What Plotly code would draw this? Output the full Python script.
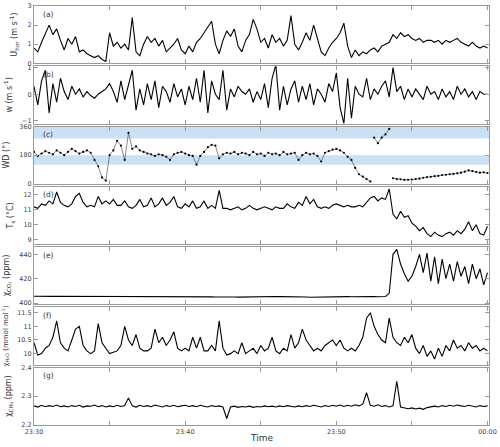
import pandas as pd
import plotly.graph_objects as go

# time axis, 15 s samples from 23:30 to 00:00
time = pd.date_range("2020-01-01 23:30:00", periods=121, freq="15s")

u_hor = [0.8, 0.6, 1.1, 1.6, 2.0, 1.5, 1.8, 1.2, 0.7, 1.3,
         1.0, 1.4, 0.6, 0.7, 0.5, 0.4, 0.3, 0.4, 0.2, 0.1,
         1.6, 0.9, 1.1, 0.8, 1.0, 0.7, 2.4, 0.6, 0.4, 1.0,
         1.4, 1.1, 1.3, 0.9, 1.2, 0.6, 0.8, 1.0, 1.3, 0.7,
         0.5, 0.9, 0.6, 1.1, 1.3, 1.6, 1.9, 2.2, 1.0, 0.5,
         1.2, 1.7, 1.4, 1.8, 0.9, 0.6, 1.2, 1.5, 2.3, 1.8,
         1.1, 1.3, 0.8, 1.5, 1.1, 1.3, 0.9, 1.2, 2.5, 1.0,
         0.7, 1.1, 1.6, 1.2, 2.0, 1.3, 0.6, 0.4, 0.8, 1.1,
         1.3, 1.6, 2.1, 0.9, 0.3, 0.7, 0.4, 0.6, 0.5, 0.7,
         0.8, 0.6, 0.9, 1.0, 1.1, 1.5, 1.3, 1.6, 1.4, 1.5,
         1.3, 1.2, 1.3, 1.1, 1.2, 1.2, 1.1, 1.2, 1.0, 1.2,
         1.1, 1.2, 1.3, 1.1, 1.0, 0.9, 1.1, 0.9, 0.8, 0.9, 0.8]

w = [0.3, -0.4, 0.5, 0.9, -0.7, 0.4, -0.3, 0.6, 0.1, -0.2,
     0.3, 0.0, 0.2, -0.1, 0.1, -0.05, -0.15, 0.0, 0.1, 0.2,
     0.4, 0.1, -0.3, 0.5, -0.2, 0.3, 0.9, -0.6, 0.2, -0.4,
     0.4, -0.2, 0.5, -0.5, 0.3, 0.1, -0.3, 0.4, -0.1, 0.2,
     -0.4, 0.3, -0.2, 0.6, -0.3, 0.9, -0.7, 0.5, 0.0, -0.2,
     0.9, -0.6, 0.2, -0.1, 0.3, 0.1, 0.0, 0.2, -0.3, 0.1,
     -0.2, 0.4, -0.5, 0.6, 1.1, -0.6, 0.3, -0.4, 0.2, 0.5,
     -0.3, 0.3, -0.2, 0.4, -0.4, 0.2, 0.0, -0.3, 0.4, 0.1,
     0.8, -0.5, -1.1, 0.6, -0.9, 0.3, 0.0, -0.1, 0.6, -0.2,
     0.2, 0.0, 0.3, 0.5, -0.1, 1.0, 0.1, 0.3, -0.2, 0.2,
     -0.1, 0.2, 0.0, -0.2, 0.3, 0.0, 0.1, -0.2, 0.2, -0.1,
     0.1, -0.2, 0.3, 0.0, 0.2, -0.1, 0.1, -0.2, 0.1, 0.0, 0.0]

wd = [200, 175, 190, 205, 195, 185, 210, 195, 180, 200,
      220, 205, 190, 200, 210, 195, 150, 110, 40, 20,
      180, 210, 270, 240, 150, 320, 220, 235, 210, 200,
      190, 185, 175, 185, 180, 170, 150, 185, 195, 200,
      190, 180, 175, 120, 175, 200, 230, 245, 240, 160,
      185, 195, 190, 200, 185, 195, 190, 180, 200, 185,
      190, 175, 195, 185, 190, 180, 200, 185, 190, 195,
      150, 180, 195, 185, 190, 175, 140, 195, 205, 215,
      220, 210, 195, 170, 150, 100, 60, 45, 30, 15,
      290, 255, 290, 310, 345, 35, 30, 28, 25, 25,
      27, 30, 32, 38, 42, 44, 48, 50, 55, 57,
      60, 62, 66, 70, 76, 84, 80, 74, 70, 72, 68]

t_s = [11.2, 11.1, 11.4, 11.3, 11.6, 11.4, 12.2, 11.5, 11.3, 11.2,
       11.4, 11.9, 12.1, 11.5, 11.2, 11.3, 11.2, 11.9, 11.4, 11.6,
       11.4, 11.7, 11.3, 11.3, 11.6, 11.2, 11.1, 11.3, 11.7, 11.2,
       11.3, 11.8, 11.2, 11.4, 11.8, 11.3, 11.5, 11.9, 11.2, 11.1,
       11.4, 11.2, 11.6, 11.1, 11.2, 11.6, 11.1, 11.3, 11.1, 12.3,
       11.1, 11.1, 11.0, 11.1, 11.2, 11.0, 11.1, 11.3, 11.1, 11.0,
       11.1, 11.2, 11.1, 11.0, 11.2, 11.1, 11.1, 11.4, 11.2, 11.1,
       11.5, 11.3, 11.9, 11.4, 11.7, 11.2, 11.1, 11.2, 11.1, 11.3,
       11.4, 11.3, 11.2, 11.3, 11.2, 11.2, 11.3, 11.2, 11.5, 11.8,
       11.9, 11.6, 11.8, 11.7, 12.4, 10.7, 10.4, 10.9, 10.5, 10.6,
       10.1, 9.9, 9.6, 9.8, 9.4, 9.2, 9.5, 9.3, 9.2, 9.4,
       9.5, 9.3, 9.6, 9.4, 9.7, 10.2, 9.6, 10.0, 9.4, 9.3, 9.9]

co2 = [405.6, 405.5, 405.6, 405.7, 405.6, 405.5, 405.6, 405.6, 405.7, 405.6,
       405.5, 405.6, 405.6, 405.5, 405.6, 405.7, 405.6, 405.5, 405.4, 405.5,
       405.4, 405.3, 405.4, 405.5, 405.5, 405.6, 405.6, 405.7, 405.6, 405.6,
       405.5, 405.6, 405.7, 405.6, 405.5, 405.6, 405.6, 405.5, 405.6, 405.5,
       405.5, 405.4, 405.5, 405.5, 405.4, 405.3, 405.2, 405.1, 405.0, 405.1,
       405.0, 404.9, 405.0, 405.0, 404.9, 405.0, 405.1, 405.0, 405.1, 405.2,
       405.2, 405.3, 405.2, 405.3, 405.4, 405.3, 405.3, 405.4, 405.5, 405.4,
       405.3, 405.2, 405.0, 404.8, 404.9, 405.0, 405.1, 405.1, 405.2, 405.2,
       405.1, 405.2, 405.2, 405.3, 405.2, 405.3, 405.2, 405.2, 405.3, 405.2,
       405.3, 405.2, 405.3, 405.4, 408.0, 440.0, 444.0, 432.0, 424.0, 418.0,
       422.0, 430.0, 440.0, 425.0, 441.0, 418.0, 438.0, 416.0, 436.0, 420.0,
       432.0, 418.0, 434.0, 422.0, 430.0, 416.0, 432.0, 420.0, 428.0, 415.0, 425.0]

h2o = [10.4, 9.95, 10.0, 10.2, 10.3, 10.6, 11.2, 10.4, 10.2, 10.1,
       10.5, 10.9, 11.0, 10.3, 10.1, 10.0, 10.1, 11.1, 10.4, 10.2,
       10.0, 10.05, 10.1, 10.3, 11.0, 10.5, 10.3, 10.7, 10.2, 10.1,
       10.1, 10.2, 10.9, 10.4, 10.6, 10.3, 10.5, 10.8, 10.2, 10.1,
       10.2, 10.1, 10.6, 10.2, 10.6, 10.1, 10.1, 10.3, 10.1, 11.2,
       10.2, 9.95, 10.0, 10.1, 10.0, 10.4, 10.0, 10.1, 10.2, 10.0,
       10.3, 10.1, 10.2, 10.6, 10.1, 10.0, 10.2, 10.1, 10.7, 10.2,
       10.4, 10.9, 10.5, 10.3, 10.1, 10.2, 10.1, 10.3, 10.4, 10.5,
       10.3, 10.5, 10.2, 10.1, 10.2, 10.1, 10.3, 10.6, 11.3, 11.5,
       11.0, 10.7, 10.5, 10.4, 11.3, 10.6, 10.4, 10.3, 10.6, 10.4,
       10.7, 10.2, 10.0, 10.3, 9.9, 10.1, 9.8, 10.2, 9.9, 10.3,
       10.1, 10.5, 10.2, 10.3, 10.1, 10.4, 10.2, 10.3, 10.1, 10.2, 10.1]

ch4 = [2.266, 2.262, 2.268, 2.263, 2.267, 2.264, 2.269, 2.263, 2.266, 2.262,
       2.267, 2.264, 2.268, 2.262, 2.266, 2.265, 2.269, 2.263, 2.267, 2.262,
       2.266, 2.263, 2.268, 2.264, 2.267, 2.294, 2.266, 2.262, 2.268, 2.264,
       2.267, 2.263, 2.269, 2.265, 2.262, 2.267, 2.264, 2.268, 2.263, 2.266,
       2.268, 2.264, 2.267, 2.263, 2.268, 2.265, 2.262, 2.267, 2.264, 2.266,
       2.262, 2.222, 2.262, 2.265, 2.261, 2.264, 2.262, 2.265, 2.261, 2.264,
       2.262, 2.266, 2.263, 2.265, 2.262, 2.266, 2.263, 2.267, 2.264, 2.262,
       2.266, 2.263, 2.267, 2.264, 2.268, 2.265, 2.262, 2.267, 2.264, 2.268,
       2.265, 2.269, 2.264, 2.268, 2.265, 2.270, 2.266, 2.272, 2.312, 2.268,
       2.265, 2.270, 2.264, 2.267, 2.262, 2.266, 2.352, 2.262, 2.258, 2.256,
       2.259, 2.255, 2.258, 2.254, 2.260, 2.262, 2.265, 2.262, 2.267, 2.264,
       2.268, 2.265, 2.269, 2.266, 2.264, 2.268, 2.265, 2.262, 2.267, 2.264, 2.266]

series = [u_hor, w, wd, t_s, co2, h2o, ch4]
panel_labels = ["(a)", "(b)", "(c)", "(d)", "(e)", "(f)", "(g)"]
y_titles = ["U<sub>hor</sub> (m s<sup>-1</sup>)", "w (m s<sup>-1</sup>)", "WD (°)",
            "T<sub>s</sub> (°C)", "χ<sub>CO₂</sub> (ppm)",
            "χ<sub>H₂O</sub> (mmol mol<sup>-1</sup>)", "χ<sub>CH₄</sub> (ppm)"]
y_ranges = [[0, 3], [-1.1, 1.05], [0, 360], [8.7, 12.55], [399, 446], [9.6, 11.7], [2.2, 2.4]]
y_ticks = [[0, 1, 2, 3], [-1, 0, 1], [0, 180, 360], [9, 10, 11, 12],
           [400, 420, 440], [10, 10.5, 11, 11.5], [2.2, 2.3, 2.4]]
wd_sectors = [[285, 360], [120, 180]]
# WD pieces drawn separately where the direction wraps past north
wd_pieces = [(0, 90), (90, 95), (95, 121)]

W, H = 500, 447
top, bottom = 6, 425
ph, gap = 57.3, 2.95
font = "DejaVu Sans"
axcol = "#9a9a9a"
xend = time[-1] + pd.Timedelta(seconds=6)

fig = go.Figure()
layout = {}
for k in range(7):
    n = "" if k == 0 else str(k + 1)
    ptop = top + k * (ph + gap)
    d0 = (bottom - (ptop + ph)) / (bottom - top)
    d1 = (bottom - ptop) / (bottom - top)
    if k == 2:
        for a, b in wd_pieces:
            fig.add_trace(go.Scatter(x=time[a:b], y=wd[a:b], mode="lines+markers",
                                     line=dict(color="#555", width=0.7),
                                     marker=dict(size=2.2, color="black"),
                                     xaxis="x3", yaxis="y3", showlegend=False))
    else:
        fig.add_trace(go.Scatter(x=time, y=series[k], mode="lines",
                                 line=dict(color="black", width=1.1),
                                 xaxis="x" + n, yaxis="y" + n, showlegend=False))
    ax = dict(
        domain=[0, 1], anchor="y" + n, automargin=False,
        range=[time[0], xend], dtick=600000, tickformat="%H:%M",
        ticks="inside", ticklen=4, tickcolor=axcol, showline=True, linecolor=axcol,
        mirror="ticks", showgrid=False, zeroline=False,
        minor=dict(dtick=300000, ticks="inside", ticklen=4, tickcolor=axcol),
        showticklabels=(k == 6), tickfont=dict(size=6.5, color="#444", family=font),
    )
    if k:
        ax["matches"] = "x"
    layout["xaxis" + n] = ax
    tsize = 7 if k == 5 else 8
    layout["yaxis" + n] = dict(
        domain=[d0, d1], anchor="x" + n, range=y_ranges[k], tickvals=y_ticks[k],
        automargin=False,
        ticks="inside", ticklen=4, tickcolor=axcol, showline=True, linecolor=axcol,
        mirror="ticks", showgrid=False, zeroline=False,
        tickfont=dict(size=6.5, color="#444", family=font),
        title=dict(text=y_titles[k], font=dict(size=tsize, color="#333", family=font), standoff=8),
    )
    fig.add_annotation(x=0.016, y=0.97, xref="x" + n + " domain", yref="y" + n + " domain",
                       text=panel_labels[k], showarrow=False, xanchor="left", yanchor="top",
                       font=dict(size=7.5, color="#333", family=font))

fig.add_annotation(x=0.5, y=-0.03, xref="paper", yref="paper", yanchor="middle",
                   text="Time", showarrow=False, font=dict(size=9, color="#333", family=font))

for lo, hi in wd_sectors:
    fig.add_shape(type="rect", xref="x3 domain", yref="y3", x0=0, x1=1, y0=lo, y1=hi,
                  fillcolor="#cce0f4", line_width=0, layer="below")

fig.update_layout(**layout)
fig.update_layout(width=W, height=H,
                  margin=dict(l=34, r=11, t=top, b=H - bottom, autoexpand=False),
                  plot_bgcolor="white", paper_bgcolor="white",
                  font=dict(family=font))
fig.write_html("out.html", config={"displayModeBar": False},
               post_script="document.body.style.margin='0';")
